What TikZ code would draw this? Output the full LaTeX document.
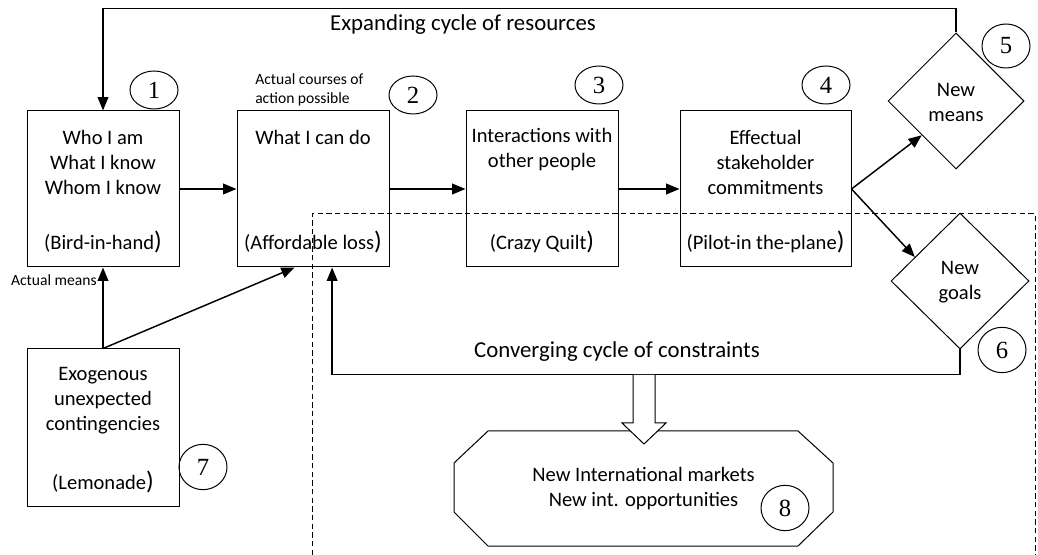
\documentclass[tikz,border=0pt]{standalone}
\usepackage{fontspec}
\setmainfont{Carlito}
\newfontfamily\tnr{Liberation Serif}
\usetikzlibrary{arrows.meta,shapes.geometric,calc}
\newcommand\clpar{{\fontsize{19}{19}\selectfont)}}
\begin{document}
\begin{tikzpicture}[x=0.75pt,y=-0.75pt,
  box/.style={draw,line width=0.75pt,minimum width=114pt,minimum height=117pt,inner sep=0pt},
  txt/.style={align=center,inner sep=0pt,font=\fontsize{15.4}{18.75}\selectfont},
  small/.style={inner sep=0pt,font=\fontsize{11.7}{14.25}\selectfont},
  big/.style={inner sep=0pt,font=\fontsize{17.1}{20}\selectfont},
  num/.style={draw,ellipse,line width=0.75pt,minimum width=36pt,minimum height=28.5pt,inner sep=0pt,font=\tnr\fontsize{18.5}{18.5}\selectfont},
  dia/.style={draw,diamond,line width=0.75pt,minimum width=102pt,minimum height=102pt,inner sep=0pt},
  arr/.style={line width=1.1pt,-{Triangle[length=10pt,width=8pt]}},
  con/.style={line width=1.1pt}]
\useasboundingbox (0,0) rectangle (1038,555);

% dashed region
\draw[dashed,line width=0.75pt,dash pattern=on 4pt off 2.5pt] (312,555) -- (312,214) -- (1035,214) -- (1035,555);

% boxes
\node[box] (box1) at (103,189) {};
\node[box] (box2) at (313,189) {};
\node[box] (box3) at (542,189) {};
\node[box,minimum width=128.25pt] (box4) at (765.5,189) {};
\node[box,minimum height=117.75pt] (box7) at (103,427.5) {};

\node[txt] (t1) at (103,162) {Who I am\\What I know\\Whom I know};
\node[txt] (p1) at (103,242) {(Bird-in-hand\clpar};
\node[txt] (t2) at (313,137) {What I can do};
\node[txt] (p2) at (313,242) {(Affordable loss\clpar};
\node[txt] (t3) at (542,149.5) {Interactions with\\other people};
\node[txt] (p3) at (542,242) {(Crazy Quilt\clpar};
\node[txt] (t4) at (765.5,162) {Effectual\\stakeholder\\commitments};
\node[txt] (p4) at (765.5,242) {(Pilot-in the-plane\clpar};
\node[txt] (t7) at (103,401) {Exogenous\\unexpected\\contingencies};
\node[txt] (p7) at (103,482) {(Lemonade\clpar};

% diamonds
\node[dia] (d5) at (956,101) {};
\node[txt] (t5) at (956,102.5) {New\\means};
\node[dia,minimum width=103.5pt] (d6) at (960,281) {};
\node[txt] (t6) at (960,282) {New\\goals};

% octagon
\draw[line width=0.75pt] (488,431) -- (798,431) -- (833,463) -- (833,512) -- (798,546) -- (488,546) -- (454,512) -- (454,463) -- cycle;
\node[txt] (oct) at (643.5,489) {New International markets\\New int. opportunities};

% numbers
\node[num] (n1) at (154,90) {1};
\node[num] (n2) at (413,95) {2};
\node[num] (n3) at (599,85) {3};
\node[num] (n4) at (826,85) {4};
\node[num,minimum height=33pt] (n5) at (1006,46) {5};
\node[num,minimum height=34pt] (n6) at (1002,350) {6};
\node[num,minimum height=34pt] (n7) at (203,467) {7};
\node[num,minimum height=34pt] (n8) at (785,508) {8};

% labels
\node[small,anchor=east] (am) at (97,280) {Actual means};
\node[small,anchor=west,align=left] (ac) at (255,90) {Actual courses of\\action possible};
\node[big] (exp) at (463,25) {Expanding cycle of resources};
\node[big] (conv) at (617,352) {Converging cycle of constraints};

% connectors
\draw[arr] (box1.east) -- (box2.west);
\draw[arr] (box2.east) -- (box3.west);
\draw[arr] (box3.east) -- (box4.west);
\draw[arr] (box4.east) -- (d5.south west);
\draw[arr] (box4.east) -- ($(d6.west)!0.35!(d6.north)$);
\draw[arr] (box7.north) -- (box1.south);
\draw[arr] (box7.north) -- ($(box2.south west)!0.38!(box2.south east)$);
\draw[arr] (d5.north) -- ++(0,-24) -| (box1.north);
\draw[arr] (d6.south) -- ++(0,25) -| ($(box2.south west)!0.625!(box2.south east)$);

% hollow arrow
\draw[line width=0.75pt,fill=white] (633,375) -- (633,423) -- (622,423) -- (644,444) -- (666,423) -- (655,423) -- (655,375);
\end{tikzpicture}
\end{document}
